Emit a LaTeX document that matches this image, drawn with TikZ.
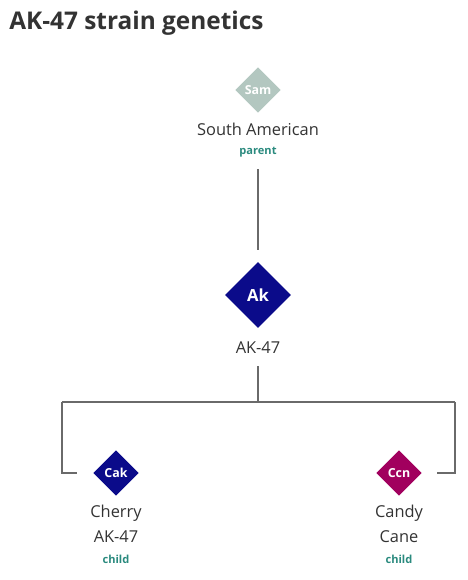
\documentclass[tikz,border=0pt]{standalone}
\usepackage{fontspec}
\setmainfont{Open Sans}
\usetikzlibrary{shapes.geometric}

\definecolor{samgray}{HTML}{B3C7C0}
\definecolor{aknavy}{HTML}{0B0B8A}
\definecolor{ccnred}{HTML}{A1005E}
\definecolor{roleteal}{HTML}{2A8A7E}
\definecolor{inkgray}{HTML}{333333}
\definecolor{linkgray}{HTML}{6A6A6A}

\tikzset{
	gem/.style={diamond,aspect=1,inner sep=0pt,text=white,font=\bfseries\fontsize{9.3}{10}\selectfont},
	strain/.style={text=inkgray,font=\fontsize{12.3}{14}\selectfont,inner sep=0pt},
	role/.style={text=roleteal,font=\bfseries\fontsize{8.3}{10}\selectfont,inner sep=0pt},
	link/.style={linkgray,line width=1.5pt}
}

\begin{document}
\begin{tikzpicture}[x=0.75pt,y=-0.75pt]
		
		\useasboundingbox (0,0) rectangle (467,580);
		
		\node[anchor=west,text=inkgray,font=\bfseries\fontsize{18.3}{20}\selectfont,inner sep=0pt] (title) at (9,23) {AK-47 strain genetics};
		
		\node[gem,fill=samgray,minimum size=34pt] (sam) at (258,90) {Sam};
		\node[strain] (samlab) at (258,129) {South American};
		\node[role] (samrole) at (258,152) {parent};
		
		\node[gem,fill=aknavy,minimum size=49.5pt,font=\bfseries\fontsize{12.5}{13}\selectfont] (ak) at (258,295) {Ak};
		\node[strain] (aklab) at (258,348) {AK-47};
		
		\node[gem,fill=aknavy,minimum size=34pt] (cak) at (116,473) {Cak};
		\node[strain] (caklab1) at (116,513) {Cherry};
		\node[strain] (caklab2) at (116,537) {AK-47};
		\node[role] (cakrole) at (116,559) {child};
		
		\node[gem,fill=ccnred,minimum size=34pt] (ccn) at (399,473) {Ccn};
		\node[strain] (ccnlab1) at (399,513) {Candy};
		\node[strain] (ccnlab2) at (399,537) {Cane};
		\node[role] (ccnrole) at (399,559) {child};
		
		\coordinate (lft) at (62,402);
		\coordinate (rgt) at (455,402);
		
		\draw[link,shorten <=9pt,shorten >=9pt] (samrole.south) -- (ak.north);
		\draw[link,shorten <=9pt] (aklab.south) -- (aklab.south |- lft);
		\draw[link] (lft) -- (rgt);
		\draw[link,shorten >=12pt] (lft) |- (cak.west);
		\draw[link,shorten >=11pt] (rgt) |- (ccn.east);
	\end{tikzpicture}
\end{document}
